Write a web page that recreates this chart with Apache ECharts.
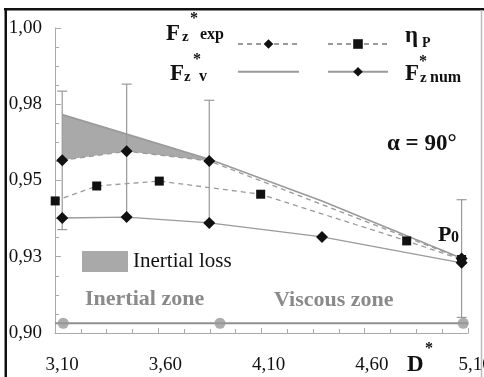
<!DOCTYPE html>
<html>
<head>
<meta charset="utf-8">
<script src="https://cdn.jsdelivr.net/npm/echarts@6/dist/echarts.min.js"></script>
<style>
  html, body { margin: 0; padding: 0; background: #fff; }
  #chart { width: 484px; height: 377px; }
</style>
</head>
<body>
<div id="chart"></div>
<script>
// Dimensionless force Fz* versus dimensionless diameter D*
const dExp = [3.135, 3.447, 3.847, 5.069];
const fzExp = [0.9566, 0.9596, 0.9564, 0.9244];
const fzExpErr = [0.0227, 0.0220, 0.0199, 0.0193];

const dNum = [3.135, 3.447, 3.847, 4.393, 5.069];
const fzNum = [0.9377, 0.9380, 0.9361, 0.9315, 0.9230];
const fzV = [0.9716, 0.9652, 0.9570, 0.9433, 0.9245];

const dEta = [3.101, 3.302, 3.605, 4.096, 4.803, 5.069];
const etaP = [0.9433, 0.9482, 0.9498, 0.9455, 0.9302, 0.9241];

// zone boundary markers along the bottom
const zoneD = [3.140, 3.899, 5.077];
const zoneLevel = 0.9032;

// number of leading points that bound the inertial-loss area
const lossCount = 3;

const xTicks = [3.10, 3.60, 4.10, 4.60, 5.10];
const yTicks = [0.900, 0.925, 0.950, 0.975, 1.000];

const SERIF = '"Liberation Serif", "DejaVu Serif", serif';
const GREY_LINE = '#9a9a9a';
const MARK = '#111';

const pairs = (xs, ys) => xs.map((x, i) => [x, ys[i]]);
const comma = v => (Math.round(v * 100 + 1e-6) / 100).toFixed(2).replace('.', ',');

const chart = echarts.init(document.getElementById('chart'), null, { renderer: 'canvas' });

function txt(text, x, y, size, opts) {
  opts = opts || {};
  return {
    type: 'text',
    x: x, y: y,
    silent: true,
    style: {
      text: text,
      font: (opts.bold === false ? '' : 'bold ') + size + 'px ' + SERIF,
      fill: opts.fill || MARK,
      align: opts.align || 'left',
      verticalAlign: 'middle'
    },
    z: 50
  };
}

const option = {
  animation: false,
  backgroundColor: '#fff',
  grid: { left: 55, top: 28, right: 16, bottom: 44, containLabel: false, outerBoundsMode: 'none' },
  xAxis: {
    type: 'value',
    min: xTicks[0], max: xTicks[xTicks.length - 1], interval: 0.5,
    axisLine: { lineStyle: { color: '#aaa', width: 1 } },
    axisTick: { inside: true, length: 5, lineStyle: { color: '#aaa' } },
    minorTick: { show: true, splitNumber: 4, length: 4, lineStyle: { color: '#aaa' } },
    splitLine: { show: false },
    axisLabel: {
      margin: 23, fontFamily: SERIF, fontSize: 19, color: MARK, formatter: comma,
      padding: [0, 0, 0, 14]
    }
  },
  yAxis: {
    type: 'value',
    min: yTicks[0], max: yTicks[yTicks.length - 1], interval: 0.025,
    axisLine: { show: true, lineStyle: { color: '#aaa', width: 1 } },
    axisTick: { show: true, inside: true, length: 6, lineStyle: { color: '#aaa' } },
    minorTick: { show: true, splitNumber: 4, length: 4, lineStyle: { color: '#aaa' } },
    splitLine: { show: false },
    axisLabel: { margin: 13, fontFamily: SERIF, fontSize: 19, color: MARK, formatter: comma }
  },
  legend: [
    {
      data: [{ name: 'Fz* exp' }, { name: 'Fz* v', itemStyle: { opacity: 0 } }],
      orient: 'vertical', left: 237, top: 38, padding: 0,
      itemWidth: 61, itemHeight: 12, itemGap: 17,
      selectedMode: false, formatter: () => ''
    },
    {
      data: ['ηP', 'Fz* num'],
      orient: 'vertical', left: 327, top: 38, padding: 0,
      itemWidth: 60, itemHeight: 12, itemGap: 17,
      selectedMode: false, formatter: () => ''
    },
    {
      data: [{ name: 'Inertial loss', icon: 'rect' }],
      left: 82, top: 251, padding: 0,
      itemWidth: 46, itemHeight: 21, itemGap: 5,
      selectedMode: false,
      textStyle: { fontFamily: SERIF, fontSize: 21, color: MARK }
    }
  ],
  series: [
    {
      name: 'Inertial loss',
      type: 'custom',
      z: 1,
      silent: true,
      itemStyle: { color: '#a9a9a9' },
      data: [[dExp[0], fzExp[0]]],
      renderItem: function (params, api) {
        const pts = [];
        for (let i = 0; i < lossCount; i++) pts.push(api.coord([dNum[i], fzV[i]]));
        for (let i = lossCount - 1; i >= 0; i--) pts.push(api.coord([dExp[i], fzExp[i]]));
        return { type: 'polygon', shape: { points: pts }, style: { fill: '#a9a9a9' } };
      }
    },
    {
      name: 'Fz* v',
      type: 'line',
      z: 3,
      data: pairs(dNum, fzV),
      symbol: 'none',
      lineStyle: { color: GREY_LINE, width: 1.6 }
    },
    {
      name: 'Fz* exp',
      type: 'line',
      z: 4,
      data: pairs(dExp, fzExp),
      symbol: 'diamond', symbolSize: 12,
      itemStyle: { color: MARK },
      lineStyle: { color: GREY_LINE, width: 1.3, type: [5, 4] }
    },
    {
      name: 'error',
      type: 'custom',
      z: 2,
      silent: true,
      data: dExp.map((d, i) => [d, fzExp[i], fzExpErr[i]]),
      renderItem: function (params, api) {
        const d = api.value(0), v = api.value(1), e = api.value(2);
        const top = api.coord([d, v + e]);
        const bot = api.coord([d, v - e]);
        const cap = 5;
        const st = { stroke: '#999', lineWidth: 1.2 };
        return {
          type: 'group',
          children: [
            { type: 'line', shape: { x1: top[0], y1: top[1], x2: bot[0], y2: bot[1] }, style: st },
            { type: 'line', shape: { x1: top[0] - cap, y1: top[1], x2: top[0] + cap, y2: top[1] }, style: st },
            { type: 'line', shape: { x1: bot[0] - cap, y1: bot[1], x2: bot[0] + cap, y2: bot[1] }, style: st }
          ]
        };
      }
    },
    {
      name: 'ηP',
      type: 'line',
      z: 4,
      data: pairs(dEta, etaP),
      symbol: 'rect', symbolSize: 9,
      itemStyle: { color: MARK },
      lineStyle: { color: GREY_LINE, width: 1.3, type: [5, 4] }
    },
    {
      name: 'Fz* num',
      type: 'line',
      z: 5,
      data: pairs(dNum, fzNum),
      symbol: 'diamond', symbolSize: 12,
      itemStyle: { color: MARK },
      lineStyle: { color: GREY_LINE, width: 1.3 }
    },
    {
      name: 'zones',
      type: 'line',
      z: 2,
      silent: true,
      data: [[xTicks[0], zoneLevel], [xTicks[xTicks.length - 1], zoneLevel]],
      symbol: 'none',
      lineStyle: { color: '#8f8f8f', width: 2 }
    },
    {
      name: 'zone limits',
      type: 'scatter',
      z: 3,
      silent: true,
      data: zoneD.map(d => [d, zoneLevel]),
      symbolSize: 11,
      itemStyle: { color: '#999' }
    }
  ],
  graphic: [
    // frame
    { type: 'rect', shape: { x: 4, y: 8, width: 480, height: 2.5 }, style: { fill: '#111' }, silent: true },
    { type: 'rect', shape: { x: 4.5, y: 8, width: 2.5, height: 369 }, style: { fill: '#111' }, silent: true },
    { type: 'line', shape: { x1: 481.5, y1: 10, x2: 481.5, y2: 377 }, style: { stroke: '#bbb', lineWidth: 1.5 }, silent: true },

    // legend captions
    txt('F', 166, 34, 23), txt('z', 182, 37, 15), txt('*', 190, 19, 16), txt('exp', 200, 35, 16),
    txt('F', 170, 74, 23), txt('z', 184, 77, 15), txt('*', 193, 60, 16), txt('v', 199, 77, 16),
    txt('η', 405, 36, 23), txt('P', 422, 43, 14),
    txt('F', 405, 74, 23), txt('z', 420, 78, 15), txt('*', 419, 62, 16), txt('num', 430, 78, 16),

    // annotations
    txt('α = 90°', 387, 144, 23),
    txt('P', 438, 235, 22), txt('0', 451, 238, 16),
    txt('Inertial zone', 85, 299, 22, { fill: '#8a8a8a' }),
    txt('Viscous zone', 274, 300, 22, { fill: '#8a8a8a' }),
    txt('D', 407, 365, 23), txt('*', 425, 349, 16)
  ]
};

chart.setOption(option);
</script>
</body>
</html>
